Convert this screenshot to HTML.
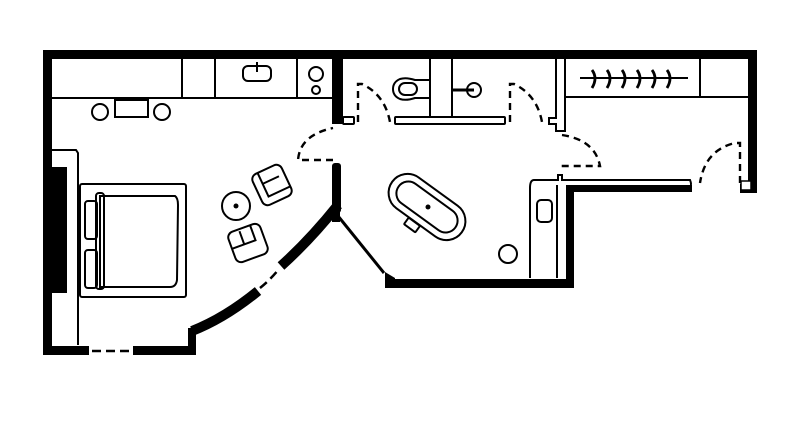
<!DOCTYPE html>
<html><head><meta charset="utf-8"><style>html,body{margin:0;padding:0;background:#fff}svg{display:block}</style></head>
<body>
<svg width="800" height="424" viewBox="0 0 800 424" xmlns="http://www.w3.org/2000/svg">
<rect width="800" height="424" fill="#fff"/>
<g fill="#000">
<rect x="43" y="50" width="714" height="9"/>
<rect x="43" y="50" width="9" height="305"/>
<rect x="43" y="346" width="46" height="9"/>
<rect x="133" y="346" width="63" height="9"/>
<rect x="188" y="328" width="8" height="27"/>
<rect x="748" y="50" width="9" height="143"/>
<rect x="740" y="184" width="17" height="9"/>
<rect x="332" y="58" width="11" height="66"/>
<rect x="332" y="163" width="9" height="50" rx="3"/>
<rect x="566" y="185" width="8" height="103"/>
<rect x="566" y="185" width="126" height="7"/>
<rect x="385" y="279" width="189" height="9"/>
<path d="M385 272 L395 278 L395 288 L385 288 Z"/>
<rect x="52" y="167" width="15" height="126"/>
</g>
<g fill="none" stroke="#000" stroke-width="10">
<path d="M192 331 Q225 318 258 291"/>
<path d="M281 266 Q310 240 338 205"/>
</g>
<g fill="none" stroke="#000" stroke-width="2.5" stroke-dasharray="9 5">
<line x1="92" y1="351" x2="130" y2="351"/>
<path d="M260 288 Q270 280 279 269"/>
</g>
<line x1="338" y1="216" x2="384" y2="273" stroke="#000" stroke-width="3"/>
<rect x="332" y="212" width="8" height="10" fill="#000"/>
<g fill="none" stroke="#000" stroke-width="2">
<line x1="52" y1="98" x2="333" y2="98"/>
<line x1="182" y1="59" x2="182" y2="98"/>
<line x1="215" y1="59" x2="215" y2="98"/>
<line x1="297" y1="59" x2="297" y2="98"/>
<rect x="243" y="66" width="28" height="15" rx="5"/>
<line x1="257" y1="62" x2="257" y2="72"/>
<circle cx="316" cy="74" r="7"/>
<circle cx="316" cy="90" r="4"/>
<circle cx="100" cy="112" r="8"/>
<rect x="115" y="100" width="33" height="17"/>
<circle cx="162" cy="112" r="8"/>
<polyline points="52,150 76,150 78,153 78,345"/>
<rect x="80" y="184" width="106" height="113" rx="2"/>
<path d="M100 196 L175 196 Q178 198 178 205 L177 280 Q176 287 170 287 L100 287 Z"/>
<rect x="96" y="193" width="8" height="96" rx="3"/>
<rect x="85" y="201" width="12" height="38" rx="3"/>
<rect x="85" y="250" width="12" height="38" rx="3"/>
<circle cx="236" cy="206" r="14"/>
<g transform="translate(272 185) rotate(-25)"><rect x="-16" y="-17" width="32" height="34" rx="6"/><path d="M-8 -17 V9 H16 M-8 -5 H10"/></g>
<g transform="translate(248 243) rotate(-20)"><rect x="-17" y="-16" width="34" height="32" rx="6"/><path d="M-17 0 H8 V-16 M-4 0 V-14"/></g>
<rect x="343" y="117" width="11" height="7" rx="1"/>
<line x1="430" y1="59" x2="430" y2="117"/>
<line x1="452" y1="59" x2="452" y2="117"/>
<rect x="395" y="117" width="110" height="7" rx="1"/>
<path d="M430 80 L415 80 Q406 77 400 79 Q393 82 393 89 Q393 96 400 99 Q406 101 415 98 L430 98"/>
<rect x="399" y="83" width="18" height="12" rx="6"/>
<circle cx="474" cy="90" r="7"/>
<path d="M556 59 V118 H549 V124 H556 V131 H565 V59"/>
<line x1="565" y1="97" x2="748" y2="97"/>
<line x1="700" y1="59" x2="700" y2="97"/>
<line x1="580" y1="78" x2="688" y2="78"/>
<path d="M530 278 V188 Q530 180 534 180 H558 V175 H562 V180 H690 Q692 185 690 185"/>
<line x1="557" y1="185" x2="557" y2="278"/>
<rect x="537" y="200" width="15" height="22" rx="4"/>
<circle cx="508" cy="254" r="9"/>
<g transform="translate(427 207) rotate(36)"><rect x="-43" y="-19" width="86" height="38" rx="19"/><rect x="-35" y="-12" width="70" height="24" rx="12"/></g>
<g transform="translate(412 225) rotate(36)"><rect x="-7" y="-4" width="14" height="8" rx="1"/></g>
</g>
<circle cx="236" cy="206" r="2.5"/>
<circle cx="428" cy="207" r="2.5"/>
<line x1="452" y1="90" x2="474" y2="90" stroke="#000" stroke-width="3"/>
<g fill="none" stroke="#000" stroke-width="2.8">
<path d="M592 70 Q598 78 592 88"/><path d="M607 70 Q613 78 607 88"/><path d="M622 70 Q628 78 622 88"/><path d="M637 70 Q643 78 637 88"/><path d="M652 70 Q658 78 652 88"/><path d="M667 70 Q673 78 667 88"/>
</g>
<g fill="none" stroke="#000" stroke-width="2.4" stroke-dasharray="7 5">
<path d="M333 160 H298 Q300 135 333 128"/>
<path d="M358 122 V84 H362 Q385 95 390 122"/>
<path d="M510 122 V84 H514 Q537 95 542 122"/>
<path d="M562 135 Q595 140 600 166 H560"/>
<path d="M740 183 V143 H735 Q705 150 700 183"/>
</g>
<rect x="741" y="181" width="10" height="9" fill="#fff" stroke="#000" stroke-width="1.5"/>
</svg>
</body></html>
